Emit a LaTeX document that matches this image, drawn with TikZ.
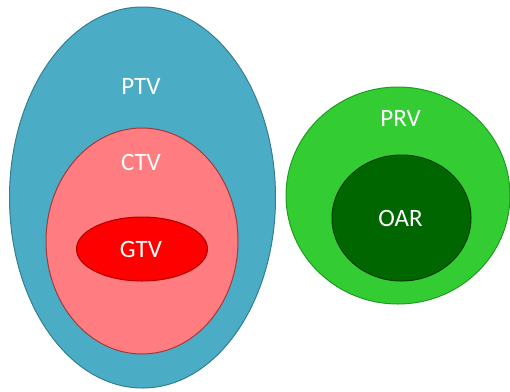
\documentclass[tikz,border=0pt]{standalone}
\usepackage{fontspec}
\setmainfont{Carlito}
\usetikzlibrary{shapes.geometric}
\definecolor{ptvfill}{HTML}{4BACC6}
\definecolor{ptvline}{HTML}{357D91}
\definecolor{ctvfill}{HTML}{FF7C80}
\definecolor{ctvline}{HTML}{A33A3A}
\definecolor{gtvfill}{HTML}{FF0000}
\definecolor{gtvline}{HTML}{B00000}
\definecolor{prvfill}{HTML}{33CC33}
\definecolor{prvline}{HTML}{1E9E1E}
\definecolor{oarfill}{HTML}{006600}
\definecolor{oarline}{HTML}{003A00}
\tikzset{
  vol/.style={ellipse, line width=1pt, inner sep=0pt, outer sep=0pt},
  lbl/.style={text=white, font=\fontsize{25}{28}\selectfont, inner sep=0pt, anchor=center}
}
\begin{document}
\begin{tikzpicture}[x=1pt,y=-1pt]
\useasboundingbox (0,0) rectangle (510,391);
\node[vol, draw=ptvline, fill=ptvfill, minimum width=266pt, minimum height=381pt] (ptv) at (142.5,197.5) {};
\node[vol, draw=ctvline, fill=ctvfill, minimum width=192pt, minimum height=226pt] (ctv) at (142,241) {};
\node[vol, draw=gtvline, fill=gtvfill, minimum width=131pt, minimum height=64pt] (gtv) at (142,249) {};
\node[vol, draw=prvline, fill=prvfill, minimum width=224pt, minimum height=217pt] (prv) at (398,195.5) {};
\node[vol, draw=oarline, fill=oarfill, minimum width=139pt, minimum height=126pt] (oar) at (401.5,218) {};
\node[lbl] (ptvt) at (141,86) {PTV};
\node[lbl] (ctvt) at (141,162) {CTV};
\node[lbl] (gtvt) at (141,249) {GTV};
\node[lbl] (prvt) at (400.5,118) {PRV};
\node[lbl] (oart) at (400.5,218) {OAR};
\end{tikzpicture}
\end{document}
